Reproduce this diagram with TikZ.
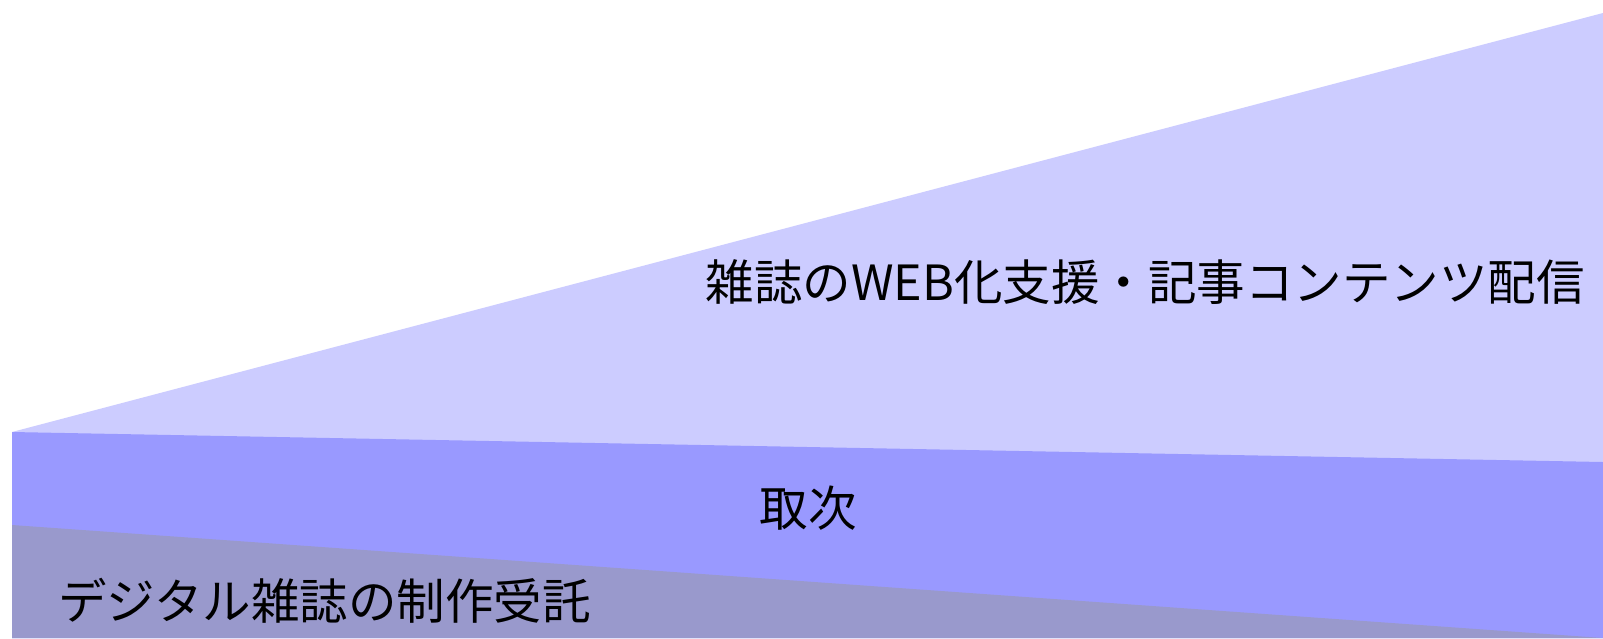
\documentclass[tikz,border=0pt]{standalone}
\usepackage{fontspec}
\newfontfamily\jpfont{Noto Sans CJK JP}
\definecolor{lightband}{HTML}{CCCCFF}
\definecolor{midband}{HTML}{9999FF}
\definecolor{lowband}{HTML}{9999CC}
\begin{document}
\begin{tikzpicture}[x=1pt,y=-1pt,
  lbl/.style={font=\jpfont\fontsize{48.5}{56}\selectfont, text=black, inner sep=0pt}]
\useasboundingbox (0,0) rectangle (1603,638);
\fill[white] (0,0) rectangle (1603,638);
\fill[lightband] (12,432) -- (1603,13) -- (1603,638) -- (12,638) -- cycle;
\fill[midband] (12,432) -- (1603,462) -- (1603,638) -- (12,638) -- cycle;
\fill[lowband] (12,525) -- (1603,638) -- (12,638) -- cycle;
\node[lbl] (web) at (1145,282) {雑誌のWEB化支援・記事コンテンツ配信};
\node[lbl] (tori) at (808,508) {取次};
\node[lbl, anchor=west] (digi) at (58,601) {デジタル雑誌の制作受託};
\end{tikzpicture}
\end{document}
